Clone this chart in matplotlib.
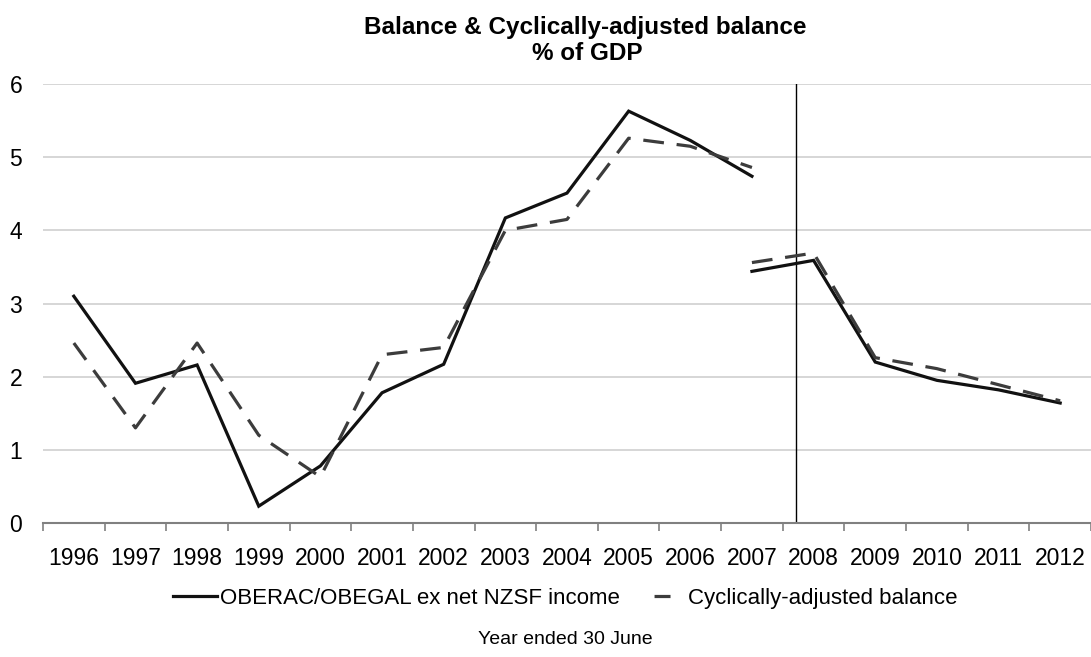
import matplotlib
matplotlib.use("Agg")
import matplotlib.pyplot as plt
import numpy as np
from matplotlib.lines import Line2D

plt.rcParams['font.family'] = ['Liberation Sans', 'DejaVu Sans']

years = [str(y) for y in range(1996, 2013)]

# old basis, 1996-2007
oberac_old = [3.10, 1.91, 2.16, 0.23, 0.78, 1.78, 2.17, 4.17, 4.51, 5.63, 5.23, 4.74]
cab_old = [2.46, 1.30, 2.46, 1.20, 0.63, 2.30, 2.40, 4.00, 4.15, 5.26, 5.15, 4.86]
# new basis, 2007-2012
oberac_new = [3.44, 3.59, 2.20, 1.95, 1.82, 1.64]
cab_new = [3.56, 3.69, 2.26, 2.11, 1.89, 1.67]

break_pos = 11.72  # vertical divider between 2007 and 2008

x = np.arange(len(years))
x_old = x[:len(oberac_old)]
x_new = x[len(oberac_old) - 1:]

fig = plt.figure(figsize=(10.91, 6.57), dpi=100)
ax = fig.add_axes([0.0394, 0.204, 0.9606, 0.668])

solid_kw = dict(color='#111111', lw=2.3, solid_joinstyle='miter')
dash_kw = dict(color='#3c3c3c', lw=2.3, linestyle=(0, (6.5, 4)))

ax.plot(x_old, oberac_old, **solid_kw, zorder=3)
ax.plot(x_new, oberac_new, **solid_kw, zorder=3)
ax.plot(x_old, cab_old, **dash_kw, zorder=4)
ax.plot(x_new, cab_new, **dash_kw, zorder=4)

ax.axvline(break_pos, ymin=0, ymax=1, color='black', lw=1.0, zorder=2)

ax.set_xlim(-0.5, len(years) - 0.5)
ax.set_ylim(0, 6)
ax.set_yticks(range(0, 7))
ax.yaxis.grid(True, color='#d0d0d0', lw=1.2)
ax.set_axisbelow(True)

ax.set_xticks(x)
ax.set_xticklabels(years)
ax.set_xticks(np.arange(-0.5, len(years)), minor=True)
ax.tick_params(axis='x', which='major', length=0, pad=17, labelsize=16.5)
ax.tick_params(axis='x', which='minor', length=6, color='#808080', width=1.2)
ax.tick_params(axis='y', length=0, pad=15, labelsize=16.5)

for s in ['top', 'right', 'left']:
    ax.spines[s].set_visible(False)
ax.spines['bottom'].set_color('#808080')
ax.spines['bottom'].set_linewidth(1.5)

fig.text(0.536, 0.958, "Balance & Cyclically-adjusted balance", ha='center', va='center',
         fontsize=17.5, fontweight='bold')
fig.text(0.538, 0.918, "% of GDP", ha='center', va='center', fontsize=17.5, fontweight='bold')

# legend: dashed handle shows one short dash in the middle
handles = [Line2D([], [], **solid_kw),
           Line2D([], [], color='#3c3c3c', lw=2.3, linestyle=(100.6, (5, 100)))]
fig.legend(handles, ["OBERAC/OBEGAL ex net NZSF income", "Cyclically-adjusted balance"],
           loc='center', bbox_to_anchor=(0.518, 0.089), ncol=2, frameon=False, fontsize=16,
           handlelength=2.0, handletextpad=0.15, columnspacing=0.9)

fig.text(0.518, 0.026, "Year ended 30 June", ha='center', va='center', fontsize=14)

fig.savefig("out.png", dpi=100)
